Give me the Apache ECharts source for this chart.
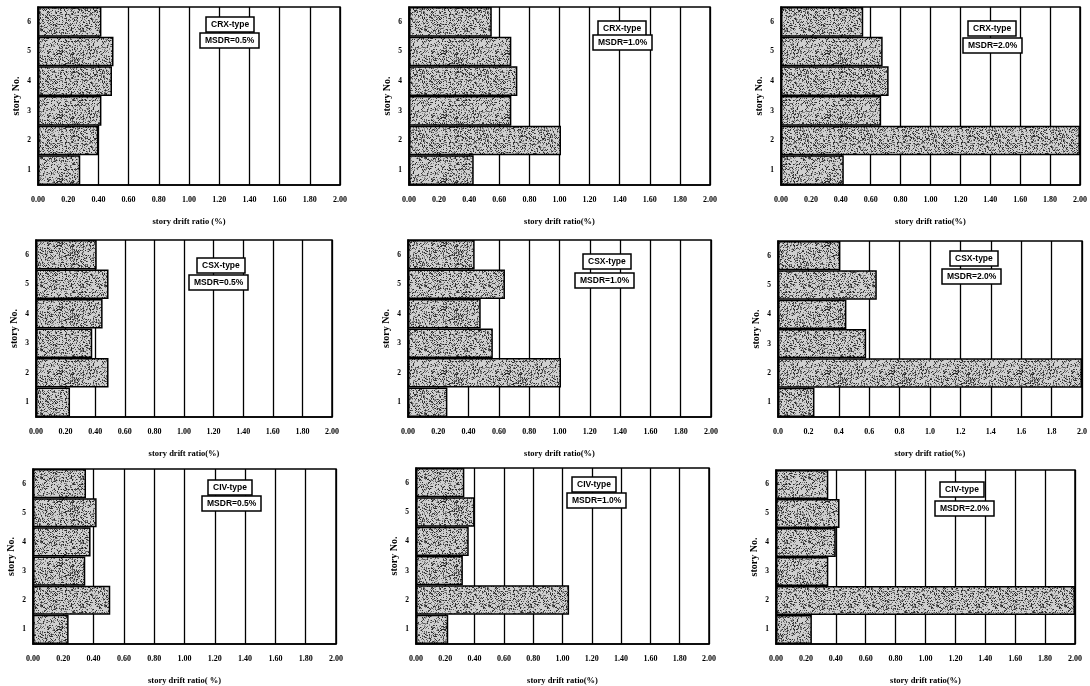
<!DOCTYPE html>
<html>
<head>
<meta charset="utf-8">
<script src="https://cdn.jsdelivr.net/npm/echarts@6/dist/echarts.min.js"></script>
<style>
  html, body { margin: 0; padding: 0; background: #fff; }
  #chart { width: 1090px; height: 686px; }
</style>
</head>
<body>
<div id="chart"></div>
<script>
// story numbers, bottom to top
const stories = ['1', '2', '3', '4', '5', '6']

// story drift ratio (%) per story 1..6
const crx05 = [0.28, 0.40, 0.42, 0.49, 0.50, 0.42]
const crx10 = [0.43, 1.01, 0.68, 0.72, 0.68, 0.55]
const crx20 = [0.42, 2.00, 0.67, 0.72, 0.68, 0.55]
const csx05 = [0.23, 0.49, 0.38, 0.45, 0.49, 0.41]
const csx10 = [0.26, 1.01, 0.56, 0.48, 0.64, 0.44]
const csx20 = [0.24, 2.00, 0.58, 0.45, 0.65, 0.41]
const civ05 = [0.235, 0.51, 0.345, 0.38, 0.42, 0.35]
const civ10 = [0.22, 1.045, 0.32, 0.36, 0.40, 0.33]
const civ20 = [0.24, 2.00, 0.35, 0.40, 0.425, 0.35]

const types = ['CRX-type', 'CRX-type', 'CRX-type', 'CSX-type', 'CSX-type', 'CSX-type', 'CIV-type', 'CIV-type', 'CIV-type']
const msdr = ['MSDR=0.5%', 'MSDR=1.0%', 'MSDR=2.0%', 'MSDR=0.5%', 'MSDR=1.0%', 'MSDR=2.0%', 'MSDR=0.5%', 'MSDR=1.0%', 'MSDR=2.0%']
const xNames = ['story drift ratio (%)', 'story drift ratio(%)', 'story drift ratio(%)', 'story drift ratio(%)', 'story drift ratio(%)', 'story drift ratio(%)', 'story drift ratio( %)', 'story drift ratio(%)', 'story drift ratio(%)']
const allData = [crx05, crx10, crx20, csx05, csx10, csx20, civ05, civ10, civ20]

// plot areas [left, top, width, height]
const grids = [
  [38, 7, 302, 178], [409, 7, 301, 178], [781, 7, 303, 178],
  [36, 240, 296, 177], [408, 240, 303, 177], [778, 241, 306, 176],
  [33, 469, 303, 178], [416, 468, 293, 182], [776, 470, 299, 178]
]
// label boxes [left, top] for type box and MSDR box
const boxes = [
  [[206, 17], [200, 33]], [[598, 21], [593, 35]], [[968, 21], [963, 38]],
  [[197, 258], [189, 275]], [[583, 254], [575, 273]], [[950, 251], [942, 269]],
  [[208, 480], [202, 496]], [[572, 477], [567, 493]], [[940, 482], [935, 501]]
]

// stipple texture for bars
function makeTexture() {
  const c = document.createElement('canvas')
  c.width = 64
  c.height = 64
  const ctx = c.getContext('2d')
  ctx.fillStyle = '#cfcfcf'
  ctx.fillRect(0, 0, 64, 64)
  for (let y = 0; y < 64; y++) {
    for (let x = 0; x < 64; x++) {
      const h = ((x * 73856093) ^ (y * 19349663) ^ ((x + 7) * (y + 3) * 83492791)) >>> 0
      const k = h % 100
      if (k < 38) {
        ctx.fillStyle = k < 12 ? '#2a2a2a' : (k < 24 ? '#5a5a5a' : '#8a8a8a')
        ctx.fillRect(x, y, 1, 1)
      }
    }
  }
  return c
}
const texture = makeTexture()

const serif = 'Liberation Serif'
const option = { animation: false, title: [], grid: [], xAxis: [], yAxis: [], series: [] }

allData.forEach((data, i) => {
  const g = grids[i]
  option.grid.push({
    left: g[0], top: g[1], width: g[2], height: g[3],
    show: true, borderColor: '#000', borderWidth: 1.5, backgroundColor: '#fff'
  })
  option.xAxis.push({
    gridIndex: i,
    type: 'value',
    min: 0,
    max: 2,
    interval: 0.2,
    name: xNames[i],
    nameLocation: 'middle',
    nameGap: 32,
    nameTextStyle: { fontFamily: serif, fontWeight: 'bold', fontSize: 8.5, color: '#000' },
    axisLine: { show: true, lineStyle: { color: '#000', width: 1.5 } },
    axisTick: { show: false },
    axisLabel: {
      margin: 11,
      fontFamily: serif,
      fontWeight: 'bold',
      fontSize: 8,
      color: '#000',
      formatter: (v) => v.toFixed(i === 5 ? 1 : 2)
    },
    splitLine: { show: true, lineStyle: { color: '#000', width: 1.3 } }
  })
  option.yAxis.push({
    gridIndex: i,
    type: 'category',
    data: stories,
    name: 'story No.',
    nameLocation: 'middle',
    nameGap: 17,
    nameRotate: 90,
    nameTextStyle: { fontFamily: serif, fontWeight: 'bold', fontSize: 10, color: '#000' },
    axisLine: { show: true, lineStyle: { color: '#000', width: 1.5 } },
    axisTick: { show: false },
    axisLabel: { margin: 7, fontFamily: serif, fontWeight: 'bold', fontSize: 7.5, color: '#000' },
    splitLine: { show: false }
  })
  option.series.push({
    type: 'bar',
    xAxisIndex: i,
    yAxisIndex: i,
    data: data,
    barWidth: '100%',
    barCategoryGap: 0,
    itemStyle: {
      color: { image: texture, repeat: 'repeat' },
      borderColor: '#000',
      borderWidth: 1.5
    }
  })
  const boxStyle = {
    borderColor: '#000',
    borderWidth: 1.5,
    backgroundColor: '#fff',
    padding: [3, 5],
    textStyle: { fontFamily: 'Liberation Sans Narrow, Liberation Sans, sans-serif', fontSize: 8.5, fontWeight: 'bold', color: '#000' }
  }
  option.title.push(Object.assign({ text: types[i], left: boxes[i][0][0], top: boxes[i][0][1] }, boxStyle))
  option.title.push(Object.assign({ text: msdr[i], left: boxes[i][1][0], top: boxes[i][1][1] }, boxStyle))
})

const chart = echarts.init(document.getElementById('chart'))
chart.setOption(option)
</script>
</body>
</html>
